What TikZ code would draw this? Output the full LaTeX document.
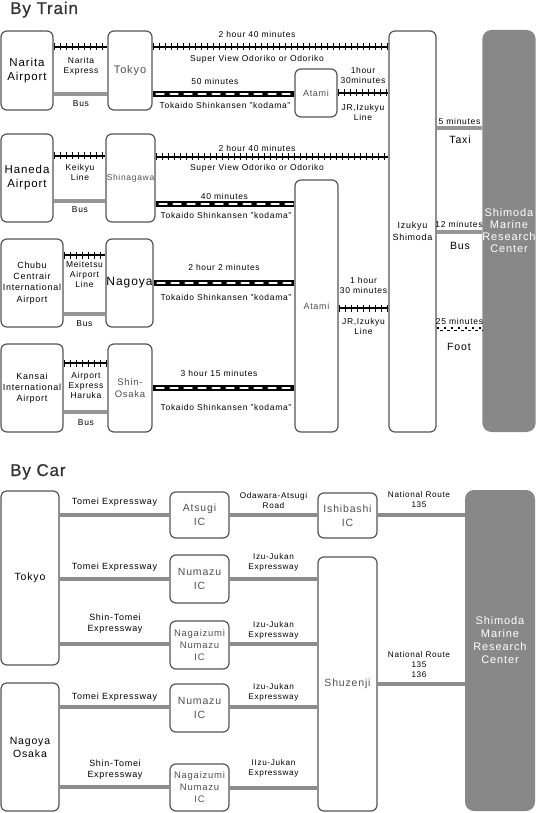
\documentclass[tikz,border=0pt]{standalone}
\usepackage{fontspec}
\setmainfont[LetterSpace=8]{Liberation Sans}
\newfontfamily\titlefont[LetterSpace=5,FakeBold=0.8]{Liberation Sans}
\definecolor{boxc}{RGB}{85,85,85}
\definecolor{txtg}{RGB}{80,80,80}
\definecolor{busc}{RGB}{150,150,150}
\definecolor{roadc}{RGB}{140,140,140}
\definecolor{marine}{RGB}{136,136,136}
\definecolor{titlec}{RGB}{51,51,51}
\tikzset{
  box/.style={draw=boxc, line width=1.2, rounded corners=6, fill=white, inner sep=0, align=center},
  mbox/.style={fill=marine, draw=none, rounded corners=9, inner sep=0, align=center, text=white},
  lab/.style={font=\fontsize{8.5}{10}\selectfont, align=center, inner sep=0},
  blab/.style={font=\fontsize{10.5}{12}\selectfont, align=center, inner sep=0},
  clab/.style={font=\fontsize{9}{11}\selectfont, align=center, inner sep=0},
  slab/.style={font=\fontsize{8.2}{10}\selectfont, align=center, inner sep=0},
  ttl/.style={font=\titlefont\fontsize{17}{19}\selectfont, text=titlec, anchor=base west, inner sep=0},
  rail/.style={draw=black, line width=1.4, postaction={draw=black, line width=7, dash pattern=on 1.3 off 4.7}},
  shink/.style={draw=black, line width=6.5, postaction={draw=white, line width=2.8, line cap=round, dash pattern=on 7 off 7, dash phase=10}},
  bus/.style={draw=busc, line width=4},
  road/.style={draw=roadc, line width=4.5},
  walk/.style={draw=black, line width=1.6, dash pattern=on 2.5 off 4.5},
  walkb/.style={draw=black, line width=1.2, dash pattern=on 3 off 4, dash phase=3.5}
}
\begin{document}
\begin{tikzpicture}[x=1pt,y=-1pt]
\useasboundingbox (0,0) rectangle (536,813);

% ---------- By Train ----------
\node[ttl] (ttrain) at (10,14) {By Train};

\node[box, minimum width=52, minimum height=79, font=\fontsize{11.5}{14}\selectfont] (narita) at (27,70.5) {Narita\\Airport};
\node[box, minimum width=44, minimum height=79, font=\fontsize{11}{13}\selectfont, text=txtg] (tokyo) at (130,70.5) {Tokyo};
\node[box, minimum width=42, minimum height=48, font=\fontsize{9}{11}\selectfont, text=txtg] (atamis) at (316,93) {Atami};
\node[box, minimum width=47, minimum height=401, font=\fontsize{9}{12}\selectfont] (izukyu) at (412.5,231.5) {Izukyu\\Shimoda};
\node[mbox, minimum width=52, minimum height=402, font=\fontsize{11}{12}\selectfont] (marinet) at (509,231) {Shimoda\\Marine\\Research\\Center};

\node[box, minimum width=52, minimum height=88, font=\fontsize{11.5}{14}\selectfont] (haneda) at (27,178) {Haneda\\Airport};
\node[box, minimum width=49, minimum height=88, font=\fontsize{8.5}{10}\selectfont, text=txtg] (shinagawa) at (130.5,178) {Shinagawa};
\node[box, minimum width=43, minimum height=252, font=\fontsize{9}{11}\selectfont, text=txtg] (atamib) at (316.5,306) {Atami};

\node[box, minimum width=62, minimum height=88, font=\fontsize{9}{11.3}\selectfont] (chubu) at (32,283) {Chubu\\Centrair\\International\\Airport};
\node[box, minimum width=47, minimum height=88, font=\fontsize{12}{14}\selectfont] (nagoya) at (129.5,283) {Nagoya};

\node[box, minimum width=62, minimum height=88, font=\fontsize{9}{10.7}\selectfont] (kansai) at (32,388) {Kansai\\International\\Airport};
\node[box, minimum width=44, minimum height=88, font=\fontsize{9.5}{12}\selectfont, text=txtg] (shinosaka) at (130,388) {Shin-\\Osaka};

% rails
\path[rail] (narita.east |- 0,47) -- (tokyo.west |- 0,47);
\path[rail] (tokyo.east |- 0,47) -- (izukyu.west |- 0,47);
\path[rail] (atamis.east |- 0,93) -- (izukyu.west |- 0,93);
\path[rail] (haneda.east |- 0,156) -- (shinagawa.west |- 0,156);
\path[rail] (shinagawa.east |- 0,157) -- (izukyu.west |- 0,157);
\path[rail] (chubu.east |- 0,255) -- (nagoya.west |- 0,255);
\path[rail] (atamib.east |- 0,308) -- (izukyu.west |- 0,308);
\path[rail] (kansai.east |- 0,363) -- (shinosaka.west |- 0,363);
% shinkansen
\path[shink] (tokyo.east |- 0,94) -- (atamis.west |- 0,94);
\path[shink] (shinagawa.east |- 0,204) -- (atamib.west |- 0,204);
\path[shink] (nagoya.east |- 0,283) -- (atamib.west |- 0,283);
\path[shink] (shinosaka.east |- 0,388) -- (atamib.west |- 0,388);
% buses
\path[bus] (narita.east |- 0,94) -- (tokyo.west |- 0,94);
\path[bus] (haneda.east |- 0,201) -- (shinagawa.west |- 0,201);
\path[bus] (chubu.east |- 0,314) -- (nagoya.west |- 0,314);
\path[bus] (kansai.east |- 0,412) -- (shinosaka.west |- 0,412);
% last mile
\path[bus, line width=3.5] (izukyu.east |- 0,128) -- (marinet.west |- 0,128);
\path[bus, line width=3.5] (izukyu.east |- 0,232) -- (marinet.west |- 0,232);
\path[walk] (izukyu.east |- 0,328) -- (marinet.west |- 0,328);
\path[walkb] (izukyu.east |- 0,330.5) -- (marinet.west |- 0,330.5);

% train labels
\node[lab] (l1) at (81,66.5) {Narita\\Express};
\node[lab] (l2) at (81,104) {Bus};
\node[lab] (l3) at (257,34) {2 hour 40 minutes};
\node[lab] (l4) at (257,59) {Super View Odoriko or Odoriko};
\node[lab] (l5) at (215,81) {50 minutes};
\node[lab] (l6) at (225,105) {Tokaido Shinkansen "kodama"};
\node[lab] (l7) at (363,75) {1hour\\30minutes};
\node[lab] (l8) at (363,112.5) {JR,Izukyu\\Line};
\node[lab] (l9) at (459.5,121) {5 minutes};
\node[blab] (l10) at (460,140) {Taxi};

\node[lab] (l11) at (80,172.5) {Keikyu\\Line};
\node[lab] (l12) at (80,210) {Bus};
\node[lab] (l13) at (257,148) {2 hour 40 minutes};
\node[lab] (l14) at (257,168) {Super View Odoriko or Odoriko};
\node[lab] (l15) at (224.5,196) {40 minutes};
\node[lab] (l16) at (226,215) {Tokaido Shinkansen "kodama"};
\node[lab] (l17) at (459,224) {12 minutes};
\node[blab] (l18) at (460,246) {Bus};

\node[lab] (l19) at (84.5,274.5) {Meitetsu\\Airport\\Line};
\node[lab] (l20) at (84.5,324) {Bus};
\node[lab] (l21) at (224,267) {2 hour 2 minutes};
\node[lab] (l22) at (226,297) {Tokaido Shinkansen "kodama"};
\node[lab] (l23) at (363.5,285.5) {1 hour\\30 minutes};
\node[lab] (l24) at (363.5,326.5) {JR,Izukyu\\Line};
\node[lab] (l25) at (459.5,321) {25 minutes};
\node[blab] (l26) at (459,347) {Foot};

\node[lab] (l27) at (86,385) {Airport\\Express\\Haruka};
\node[lab] (l28) at (86,423) {Bus};
\node[lab] (l29) at (219,373) {3 hour 15 minutes};
\node[lab] (l30) at (226,407) {Tokaido Shinkansen "kodama"};

% ---------- By Car ----------
\node[ttl] (tcar) at (10,476) {By Car};

\node[box, minimum width=58, minimum height=174, font=\fontsize{10.5}{13}\selectfont] (tokyoc) at (30,578) {Tokyo};
\node[box, minimum width=58, minimum height=128, font=\fontsize{10.5}{13}\selectfont] (nagosaka) at (30,747) {Nagoya\\Osaka};
\node[box, minimum width=59, minimum height=46, font=\fontsize{10.5}{14}\selectfont, text=txtg] (atsugi) at (199.5,515) {Atsugi\\IC};
\node[box, minimum width=59, minimum height=48, font=\fontsize{10.5}{14}\selectfont, text=txtg] (numazua) at (199.5,579) {Numazu\\IC};
\node[box, minimum width=59, minimum height=48, font=\fontsize{9.5}{12}\selectfont, text=txtg] (nagaia) at (199.5,645) {Nagaizumi\\Numazu\\IC};
\node[box, minimum width=59, minimum height=48, font=\fontsize{10.5}{14}\selectfont, text=txtg] (numazub) at (199.5,708) {Numazu\\IC};
\node[box, minimum width=59, minimum height=47, font=\fontsize{9.5}{12}\selectfont, text=txtg] (nagaib) at (199.5,787.5) {Nagaizumi\\Numazu\\IC};
\node[box, minimum width=59, minimum height=45, font=\fontsize{10.5}{14}\selectfont, text=txtg] (ishibashi) at (347.5,515.5) {Ishibashi\\IC};
\node[box, minimum width=59, minimum height=254, font=\fontsize{10.5}{13}\selectfont, text=txtg] (shuzenji) at (347.5,684) {Shuzenji};
\node[mbox, minimum width=70, minimum height=321] (marinec) at (500,650.5) {};
\node[font=\fontsize{11}{13}\selectfont, text=white, align=center, inner sep=0] (marinecl) at (500,640) {Shimoda\\Marine\\Research\\Center};

% roads
\path[road] (tokyoc.east |- 0,515) -- (atsugi.west |- 0,515);
\path[road] (atsugi.east |- 0,515) -- (ishibashi.west |- 0,515);
\path[road] (ishibashi.east |- 0,515) -- (marinec.west |- 0,515);
\path[road] (tokyoc.east |- 0,579) -- (numazua.west |- 0,579);
\path[road] (numazua.east |- 0,579) -- (shuzenji.west |- 0,579);
\path[road] (tokyoc.east |- 0,644) -- (nagaia.west |- 0,644);
\path[road] (nagaia.east |- 0,644) -- (shuzenji.west |- 0,644);
\path[road] (shuzenji.east |- 0,684) -- (marinec.west |- 0,684);
\path[road] (nagosaka.east |- 0,707) -- (numazub.west |- 0,707);
\path[road] (numazub.east |- 0,707) -- (shuzenji.west |- 0,707);
\path[road] (nagosaka.east |- 0,787) -- (nagaib.west |- 0,787);
\path[road] (nagaib.east |- 0,788) -- (shuzenji.west |- 0,788);

% car labels
\node[clab] (c1) at (114.5,502) {Tomei Expressway};
\node[slab] (c2) at (273.5,501) {Odawara-Atsugi\\Road};
\node[slab] (c3) at (419,499.5) {National Route\\135};
\node[clab] (c4) at (114.5,567) {Tomei Expressway};
\node[slab] (c5) at (273.5,562) {Izu-Jukan\\Expressway};
\node[clab] (c6) at (115,624) {Shin-Tomei\\Expressway};
\node[slab] (c7) at (273.5,630) {Izu-Jukan\\Expressway};
\node[slab] (c8) at (419,664.5) {National Route\\135\\136};
\node[clab] (c9) at (114.5,697) {Tomei Expressway};
\node[slab] (c10) at (273.5,692) {Izu-Jukan\\Expressway};
\node[clab] (c11) at (115,769.5) {Shin-Tomei\\Expressway};
\node[slab] (c12) at (273.5,768.5) {IIzu-Jukan\\Expressway};
\end{tikzpicture}
\end{document}
